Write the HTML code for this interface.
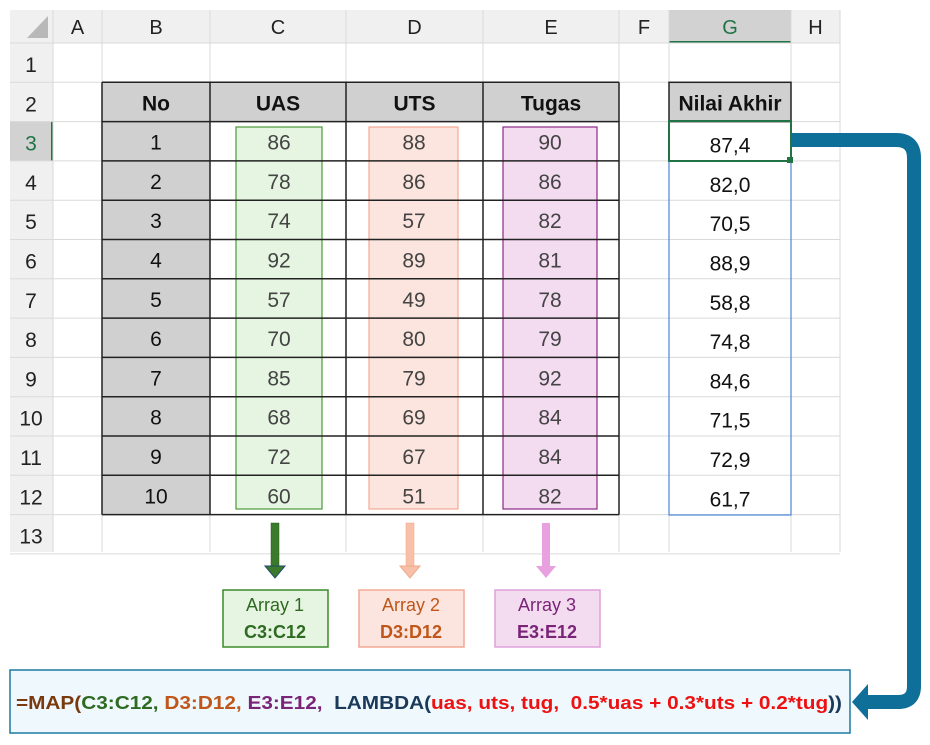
<!DOCTYPE html>
<html><head><meta charset="utf-8"><style>
body{margin:0;background:#fff;}
svg{display:block;font-family:"Liberation Sans",Arial,sans-serif;}
</style></head><body>
<svg id="s" width="930" height="745" viewBox="0 0 930 745"></svg>
<script>
const nos=[1,2,3,4,5,6,7,8,9,10];
const uas=[86,78,74,92,57,70,85,68,72,60];
const uts=[88,86,57,89,49,80,79,69,67,51];
const tugas=[90,86,82,81,78,79,92,84,84,82];
const akhir=["87,4","82,0","70,5","88,9","58,8","74,8","84,6","71,5","72,9","61,7"];
const colLetters=["A","B","C","D","E","F","G","H"];
const colX=[53,102,210,346,483,619,669,791,840];
const NS="http://www.w3.org/2000/svg";
const s=document.getElementById('s');
function el(tag,attrs,name,text){
  const e=document.createElementNS(NS,tag);
  for(const k in attrs)e.setAttribute(k,attrs[k]);
  if(name){
    
    
  }
  if(text!==undefined)e.textContent=text;
  s.appendChild(e);return e;
}
const rowTop=n=>43+(n-1)*39.3;
const rowH=39.3;
el('rect',{x:10,y:10,width:830,height:33,fill:'#f0f0f0'},'column-header-bar');
el('rect',{x:10,y:43,width:43,height:509,fill:'#f0f0f0'},'row-header-bar');
el('polygon',{points:'48,16 48,38 27,38',fill:'#b8b8b8'},'select-all-corner');
el('rect',{x:669,y:10,width:122,height:33,fill:'#d2d2d2'},'col-g-highlight');
el('line',{x1:669,y1:42,x2:791,y2:42,stroke:'#217346','stroke-width':2},'col-g-underline');
el('rect',{x:10,y:121,width:43,height:40,fill:'#d2d2d2'},'row-3-highlight');
el('line',{x1:52,y1:121,x2:52,y2:161,stroke:'#217346','stroke-width':2},'row-3-marker');
for(let i=0;i<colX.length;i++){
  el('line',{x1:colX[i],y1:10,x2:colX[i],y2:552,stroke:'#dadada','stroke-width':1},'gridline-col');
}
for(let n=1;n<=14;n++){
  el('line',{x1:10,y1:rowTop(n),x2:840,y2:rowTop(n),stroke:'#dadada','stroke-width':1},'gridline-row');
}
for(let i=0;i<colLetters.length;i++){
  el('text',{x:(colX[i]+colX[i+1])/2,y:34,'text-anchor':'middle','font-size':20,fill:i==6?'#217346':'#222'},'column-letter-'+colLetters[i],colLetters[i]);
}
for(let n=1;n<=13;n++){
  el('text',{x:31,y:rowTop(n)+29,'text-anchor':'middle','font-size':21,fill:n==3?'#217346':'#222'},'row-number-'+n,String(n));
}
el('rect',{x:102,y:rowTop(2),width:517,height:rowH,fill:'#d0d0d0'},'table-header-bg');
el('rect',{x:102,y:rowTop(3),width:108,height:rowH*10,fill:'#d0d0d0'},'no-column-bg');
el('rect',{x:669,y:rowTop(2),width:122,height:rowH,fill:'#d0d0d0',stroke:'#222','stroke-width':1.5},'nilai-akhir-header');
el('rect',{x:236,y:127,width:86,height:382,fill:'#e6f5e1',stroke:'#4a9a3a','stroke-width':1.2},'uas-highlight');
el('rect',{x:369,y:127,width:89,height:382,fill:'#fbe5de',stroke:'#f2a993','stroke-width':1.2},'uts-highlight');
el('rect',{x:503,y:127,width:94,height:382,fill:'#f3dbf0',stroke:'#8b2a86','stroke-width':1.2},'tugas-highlight');
for(let n=2;n<=13;n++){
  el('line',{x1:102,y1:rowTop(n),x2:619,y2:rowTop(n),stroke:'#222','stroke-width':1.5},'table-row-border');
}
[102,210,346,483,619].forEach(x=>el('line',{x1:x,y1:rowTop(2),x2:x,y2:rowTop(13),stroke:'#222','stroke-width':1.5},'table-col-border'));
const hdrs=["No","UAS","UTS","Tugas"];
for(let i=0;i<4;i++){
  el('text',{x:(colX[i+1]+colX[i+2])/2,y:rowTop(2)+28,'text-anchor':'middle','font-size':21,'font-weight':'bold',fill:'#111'},'header-'+hdrs[i].toLowerCase(),hdrs[i]);
}
el('text',{x:730,y:rowTop(2)+28,'text-anchor':'middle','font-size':21,'font-weight':'bold',fill:'#111'},'header-nilai-akhir','Nilai Akhir');
const cols=[[nos,156,'#111'],[uas,279,'#444'],[uts,414,'#444'],[tugas,550,'#444'],[akhir,730,'#111']];
cols.forEach((c,ci)=>{
  c[0].forEach((v,i)=>{
    el('text',{x:c[1],y:rowTop(i+3)+(ci==4?31:28),'text-anchor':'middle','font-size':21,fill:c[2]},'cell-value',String(v));
  });
});
el('rect',{x:669,y:161,width:122,height:354,fill:'none',stroke:'#4a86d8','stroke-width':1.2},'spill-range-border');
el('rect',{x:669,y:121,width:122,height:40,fill:'none',stroke:'#217346','stroke-width':2},'active-cell-g3');
el('rect',{x:787,y:157,width:6,height:6,fill:'#217346'},'fill-handle');
el('rect',{x:271,y:523,width:8,height:44,fill:'#3a7a2a',stroke:'#2a5a1a','stroke-width':0.5},'arrow-1-shaft');
el('polygon',{points:'265,566 285,566 275,578',fill:'#3a7a2a',stroke:'#1d4a6a','stroke-width':1},'arrow-1-head');
el('rect',{x:406,y:523,width:8,height:44,fill:'#f8c0a8',stroke:'#f0a888','stroke-width':0.5},'arrow-2-shaft');
el('polygon',{points:'400,566 420,566 410,578',fill:'#f8c0a8',stroke:'#f0a888','stroke-width':1},'arrow-2-head');
el('rect',{x:542,y:523,width:8,height:44,fill:'#e8a0e0'},'arrow-3-shaft');
el('polygon',{points:'536,566 556,566 546,578',fill:'#e8a0e0'},'arrow-3-head');
const boxes=[[223,'#e6f5e1','#3a8a2a','#2e6a22','Array 1','C3:C12'],[359,'#fbe5de','#f2a993','#c0561a','Array 2','D3:D12'],[495,'#f3dbf0','#e0a0dc','#7a2478','Array 3','E3:E12']];
boxes.forEach((b,i)=>{
  el('rect',{x:b[0],y:590,width:105,height:57,fill:b[1],stroke:b[2],'stroke-width':1.5},'array-box-'+(i+1));
  el('text',{x:b[0]+52,y:611,'text-anchor':'middle','font-size':18,fill:b[3]},'array-label-'+(i+1),b[4]);
  el('text',{x:b[0]+52,y:638,'text-anchor':'middle','font-size':18,'font-weight':'bold',fill:b[3]},'array-range-'+(i+1),b[5]);
});
el('path',{d:'M791,140 H896 Q914,140 914,158 V686 Q914,702 898,702 H866',fill:'none',stroke:'#0e6f98','stroke-width':14},'connector-line');
el('polygon',{points:'852,702 868,684 868,720',fill:'#0e6f98'},'connector-arrowhead');
el('rect',{x:10,y:670,width:840,height:63,fill:'#eef8fd',stroke:'#1a7aa0','stroke-width':1.5},'formula-box');
const t=el('text',{x:16,y:709,'font-size':18,'font-weight':'bold',textLength:826,lengthAdjust:'spacingAndGlyphs'},'formula-text');
t.style.whiteSpace='pre';
const parts=[["=MAP(","#7a3a10"],["C3:C12, ","#2e6a22"],["D3:D12, ","#c0561a"],["E3:E12,\u00a0 ","#7a2478"],["LAMBDA(","#1a3a5a"],["uas, uts, tug,\u00a0 0.5*uas + 0.3*uts + 0.2*tug","#ee1111"],["))","#1a3a5a"]];
parts.forEach(p=>{const ts=document.createElementNS(NS,'tspan');ts.setAttribute('fill',p[1]);ts.textContent=p[0];t.appendChild(ts);});
</script>
</body></html>
